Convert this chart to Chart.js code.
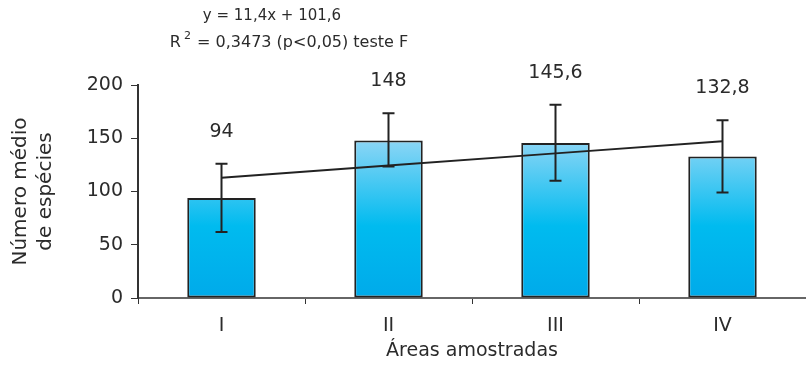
<!DOCTYPE html>
<html><head><meta charset="utf-8">
<script src="https://cdn.jsdelivr.net/npm/chart.js@4"></script>
<style>html,body{margin:0;padding:0;background:#fff}#wrap{width:806px;height:366px;position:relative}</style>
</head><body><div id="wrap"><canvas id="c" width="806" height="366"></canvas></div>
<script>
const categories = ['I', 'II', 'III', 'IV'];
const means = [94, 148, 145.6, 132.8];
const valueLabels = ['94', '148', '145,6', '132,8'];
const errHigh = [126, 173.5, 181.5, 167];
const errLow = [62, 123.5, 110, 99];
const trend = [113, 124.4, 135.8, 147.2];
const yTicks = [0, 50, 100, 150, 200];
const equation = 'y = 11,4x + 101,6';
const rText = ' = 0,3473 (p<0,05) teste F';
const FONT = '"DejaVu Sans", sans-serif';
const INK = '#2b2b2b';

const extras = {
  id: 'extras',
  afterDatasetsDraw(chart) {
    const ctx = chart.ctx, y = chart.scales.y, x = chart.scales.x;
    ctx.save();
    ctx.strokeStyle = '#222'; ctx.lineWidth = 2;
    categories.forEach((c, i) => {
      const px = x.getPixelForValue(i);
      const hi = y.getPixelForValue(errHigh[i]), lo = y.getPixelForValue(errLow[i]);
      ctx.beginPath();
      ctx.moveTo(px, hi); ctx.lineTo(px, lo);
      ctx.moveTo(px - 6, hi); ctx.lineTo(px + 6, hi);
      ctx.moveTo(px - 6, lo); ctx.lineTo(px + 6, lo);
      ctx.stroke();
      ctx.fillStyle = INK; ctx.font = '19px ' + FONT;
      ctx.textAlign = 'center'; ctx.textBaseline = 'middle';
      ctx.fillText(valueLabels[i], px, hi - 32);
    });
    // equation text
    ctx.fillStyle = INK; ctx.font = '15px ' + FONT;
    ctx.textAlign = 'center'; ctx.textBaseline = 'middle';
    ctx.fillText(equation, 272, 16);
    ctx.font = '16px ' + FONT;
    const wR = ctx.measureText('R').width;
    ctx.font = '11px ' + FONT;
    const w2 = ctx.measureText('2').width + 4;
    ctx.font = '16px ' + FONT;
    const wRest = ctx.measureText(rText).width;
    const total = wR + w2 + wRest;
    let sx = 289 - total / 2;
    ctx.textAlign = 'left';
    ctx.fillText('R', sx, 43);
    ctx.font = '11px ' + FONT;
    ctx.fillText('2', sx + wR + 3, 36);
    ctx.font = '16px ' + FONT;
    ctx.fillText(rText, sx + wR + w2, 43);
    ctx.restore();
  }
};

new Chart(document.getElementById('c'), {
  data: {
    labels: categories,
    datasets: [
      {
        type: 'bar', data: means,
        backgroundColor: (ctx) => {
          const ca = ctx.chart.chartArea;
          if (!ca) return '#00b4ee';
          const g = ctx.chart.ctx.createLinearGradient(0, ctx.chart.scales.y.getPixelForValue(150), 0, ca.bottom);
          g.addColorStop(0, '#8fd6f6');
          g.addColorStop(0.55, '#00bbef');
          g.addColorStop(1, '#00aaea');
          return g;
        },
        borderColor: '#222', borderWidth: 2, borderSkipped: false,
        barPercentage: 0.41, categoryPercentage: 1,
        order: 2
      },
      {
        type: 'line', data: trend,
        borderColor: '#222', borderWidth: 2, pointRadius: 0, fill: false, tension: 0,
        order: 1
      }
    ]
  },
  options: {
    responsive: false, animation: false, devicePixelRatio: 1,
    layout: { padding: { top: 85, right: 0, left: 0, bottom: 0 } },
    plugins: { legend: { display: false }, tooltip: { enabled: false } },
    scales: {
      x: {
        offset: true,
        grid: { display: true, offset: true, drawOnChartArea: false, tickLength: 6, color: '#333', lineWidth: 1 },
        border: { display: true, color: '#666', width: 2 },
        ticks: { color: INK, font: { family: FONT, size: 19 }, padding: 11 },
        title: { display: true, text: 'Áreas amostradas', color: INK, font: { family: FONT, size: 19 }, padding: { top: 2 } },
        afterFit(s) { s.height = 68; }
      },
      y: {
        min: 0, max: 200,
        afterBuildTicks(s) { s.ticks = yTicks.map(v => ({ value: v })); },
        grid: { display: true, drawOnChartArea: false, tickLength: 7, color: '#333', lineWidth: 1 },
        border: { display: true, color: '#333', width: 2 },
        ticks: { color: INK, font: { family: FONT, size: 19 }, padding: 8 },
        title: { display: true, text: ['Número médio', 'de espécies'], color: INK, font: { family: FONT, size: 20, lineHeight: 1.25 }, padding: { top: 8, bottom: 0 } },
        afterFit(s) { s.width = 138; }
      }
    }
  },
  plugins: [extras]
});
</script></body></html>
